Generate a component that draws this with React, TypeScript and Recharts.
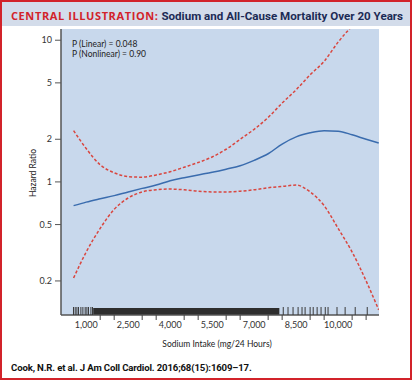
import { ComposedChart, Line, Scatter, XAxis, YAxis, CartesianGrid, ReferenceArea } from 'recharts';

// Sodium intake (mg/24 h) and spline estimates
const sodium = [550, 1000, 1500, 2000, 2500, 3000, 3500, 4000, 4500, 5000, 5500, 6000, 6500, 7000, 7500, 8000, 8500, 9000, 9500, 10000, 10500, 11000, 11450];
const hazard = [0.68, 0.72, 0.76, 0.8, 0.85, 0.9, 0.95, 1.02, 1.07, 1.12, 1.17, 1.23, 1.3, 1.42, 1.58, 1.85, 2.08, 2.22, 2.3, 2.28, 2.15, 2.0, 1.88];
const upperCI = [2.3, 1.72, 1.32, 1.16, 1.09, 1.08, 1.12, 1.18, 1.27, 1.37, 1.5, 1.7, 2.0, 2.35, 2.85, 3.6, 4.47, 5.7, 7.1, 9.7, 12.6, null, null];
const lowerCI = [0.21, 0.32, 0.47, 0.64, 0.77, 0.85, 0.88, 0.89, 0.88, 0.86, 0.85, 0.85, 0.86, 0.88, 0.91, 0.93, 0.95, 0.85, 0.68, 0.47, 0.32, 0.2, 0.125];

// rug of individual observations (sparse ends) and the dense middle band
const rugSparse = [546, 607, 668, 725, 810, 882, 964, 1025, 1082, 1168, 1225, 8040, 8210, 8390, 8570, 8710, 8820, 9000, 9110, 9250, 9390, 9540, 9640, 9960, 10250, 10610, 11040];
const rugBand = [1250, 7900];

const yTicks = [0.2, 0.5, 1, 2, 5, 10];
const xLabels = [1000, 2500, 4000, 5500, 7000, 8500, 10000];
const xMinor = [1500, 2000, 3000, 3500, 4500, 5000, 6000, 6500, 7500, 8000, 9000, 9500, 10500, 11000];

const Y_MIN = 0.115;
const Y_MAX = 12;

const data = sodium.map((s, i) => ({ sodium: s, hr: hazard[i], upper: upperCI[i], lower: lowerCI[i] }));
const rugData = rugSparse.map((s) => ({ sodium: s, hr: Y_MIN }));

const RED = '#d2232a';
const NAVY = '#1c2b55';
const FONT = 'Lato, "Open Sans", sans-serif';
const HEAD = 'Roboto, sans-serif';

const XTick = (props: any) => {
  const { x, y, payload } = props;
  if (xLabels.includes(payload.value)) {
    return (
      <text x={x} y={y + 13} textAnchor="middle" fontSize={9} fill="#333" fontFamily={FONT}>
        {payload.value.toLocaleString('en-US')}
      </text>
    );
  }
  return <line x1={x} x2={x} y1={y} y2={y + 5} stroke="#444" strokeWidth={1} />;
};

const RugTick = (props: any) => {
  const { cx, cy } = props;
  return <line x1={cx} x2={cx} y1={cy - 8} y2={cy} stroke="#3a3a3a" strokeWidth={1} />;
};

const RugBand = (props: any) => {
  const { x, y, width, height } = props;
  return <rect x={x} y={y + height - 7} width={width} height={7} fill="#2e2e2e" />;
};

export default function App() {
  return (
    <div
      style={{
        position: 'absolute',
        left: 0,
        top: 0,
        width: 412,
        height: 380,
        boxSizing: 'border-box',
        border: `2px solid ${RED}`,
        background: '#fff',
        fontFamily: FONT,
      }}
    >
      <div
        style={{
          position: 'absolute',
          left: 0,
          top: 0,
          width: 408,
          height: 24,
          background: '#d3dcea',
          fontWeight: 700,
          lineHeight: '24px',
          paddingLeft: 9,
          boxSizing: 'border-box',
          whiteSpace: 'nowrap',
        }}
      >
        <span style={{ color: RED, letterSpacing: 0.6, fontFamily: '"Open Sans", sans-serif', fontSize: 11 }}>CENTRAL ILLUSTRATION:</span>
        <span style={{ color: NAVY, fontFamily: HEAD, fontSize: 11.6 }}> Sodium and All-Cause Mortality Over 20 Years</span>
      </div>

      <div style={{ position: 'absolute', left: -2, top: -2 }}>
        <ComposedChart width={412} height={380} data={data} margin={{ top: 29, right: 33, bottom: 35, left: 31 }}>
          <CartesianGrid horizontal={false} vertical={false} fill="#c8d8ec" />
          <XAxis
            dataKey="sodium"
            type="number"
            domain={[100, 11460]}
            ticks={[...xLabels, ...xMinor].sort((a, b) => a - b)}
            interval={0}
            tick={<XTick />}
            tickLine={false}
            tickSize={0}
            tickMargin={0}
            height={30}
            axisLine={{ stroke: '#555', strokeWidth: 1.5 }}
            allowDataOverflow
          />
          <YAxis
            type="number"
            scale="log"
            domain={[Y_MIN, Y_MAX]}
            ticks={yTicks}
            interval={0}
            allowDataOverflow
            width={30}
            tickSize={6}
            tickMargin={3}
            tick={{ fontSize: 9, fill: '#333', fontFamily: FONT }}
            tickLine={{ stroke: '#555' }}
            axisLine={{ stroke: '#555', strokeWidth: 1.5 }}
          />
          <ReferenceArea x1={rugBand[0]} x2={rugBand[1]} y1={Y_MIN} y2={Y_MAX} shape={<RugBand />} ifOverflow="hidden" />
          <Scatter data={rugData} dataKey="hr" shape={<RugTick />} isAnimationActive={false} />
          <Line type="monotone" dataKey="upper" stroke="#d9463f" strokeWidth={1.5} strokeDasharray="3 2" dot={false} isAnimationActive={false} />
          <Line type="monotone" dataKey="lower" stroke="#d9463f" strokeWidth={1.5} strokeDasharray="3 2" dot={false} isAnimationActive={false} />
          <Line type="monotone" dataKey="hr" stroke="#3a6cae" strokeWidth={1.5} dot={false} isAnimationActive={false} />
        </ComposedChart>
      </div>

      <div style={{ position: 'absolute', left: 70, top: 38, fontSize: 8.5, lineHeight: '9.5px', color: '#222', whiteSpace: 'nowrap' }}>
        <div>P (Linear) = 0.048</div>
        <div>P (Nonlinear) = 0.90</div>
      </div>

      <div
        style={{
          position: 'absolute',
          left: 31,
          top: 171,
          transform: 'translate(-50%, -50%) rotate(-90deg)',
          fontSize: 8.5,
          color: '#222',
          whiteSpace: 'nowrap',
        }}
      >
        Hazard Ratio
      </div>

      <div
        style={{
          position: 'absolute',
          left: 215,
          top: 342,
          transform: 'translate(-50%, -50%)',
          fontSize: 8.5,
          color: '#222',
          whiteSpace: 'nowrap',
        }}
      >
        Sodium Intake (mg/24 Hours)
      </div>

      <div
        style={{
          position: 'absolute',
          left: 9,
          top: 360,
          fontFamily: HEAD,
          fontWeight: 700,
          fontSize: 9.6,
          letterSpacing: -0.15,
          color: '#111',
          whiteSpace: 'nowrap',
        }}
      >
        Cook, N.R. et al. J Am Coll Cardiol. 2016;68(15):1609–17.
      </div>
    </div>
  );
}
